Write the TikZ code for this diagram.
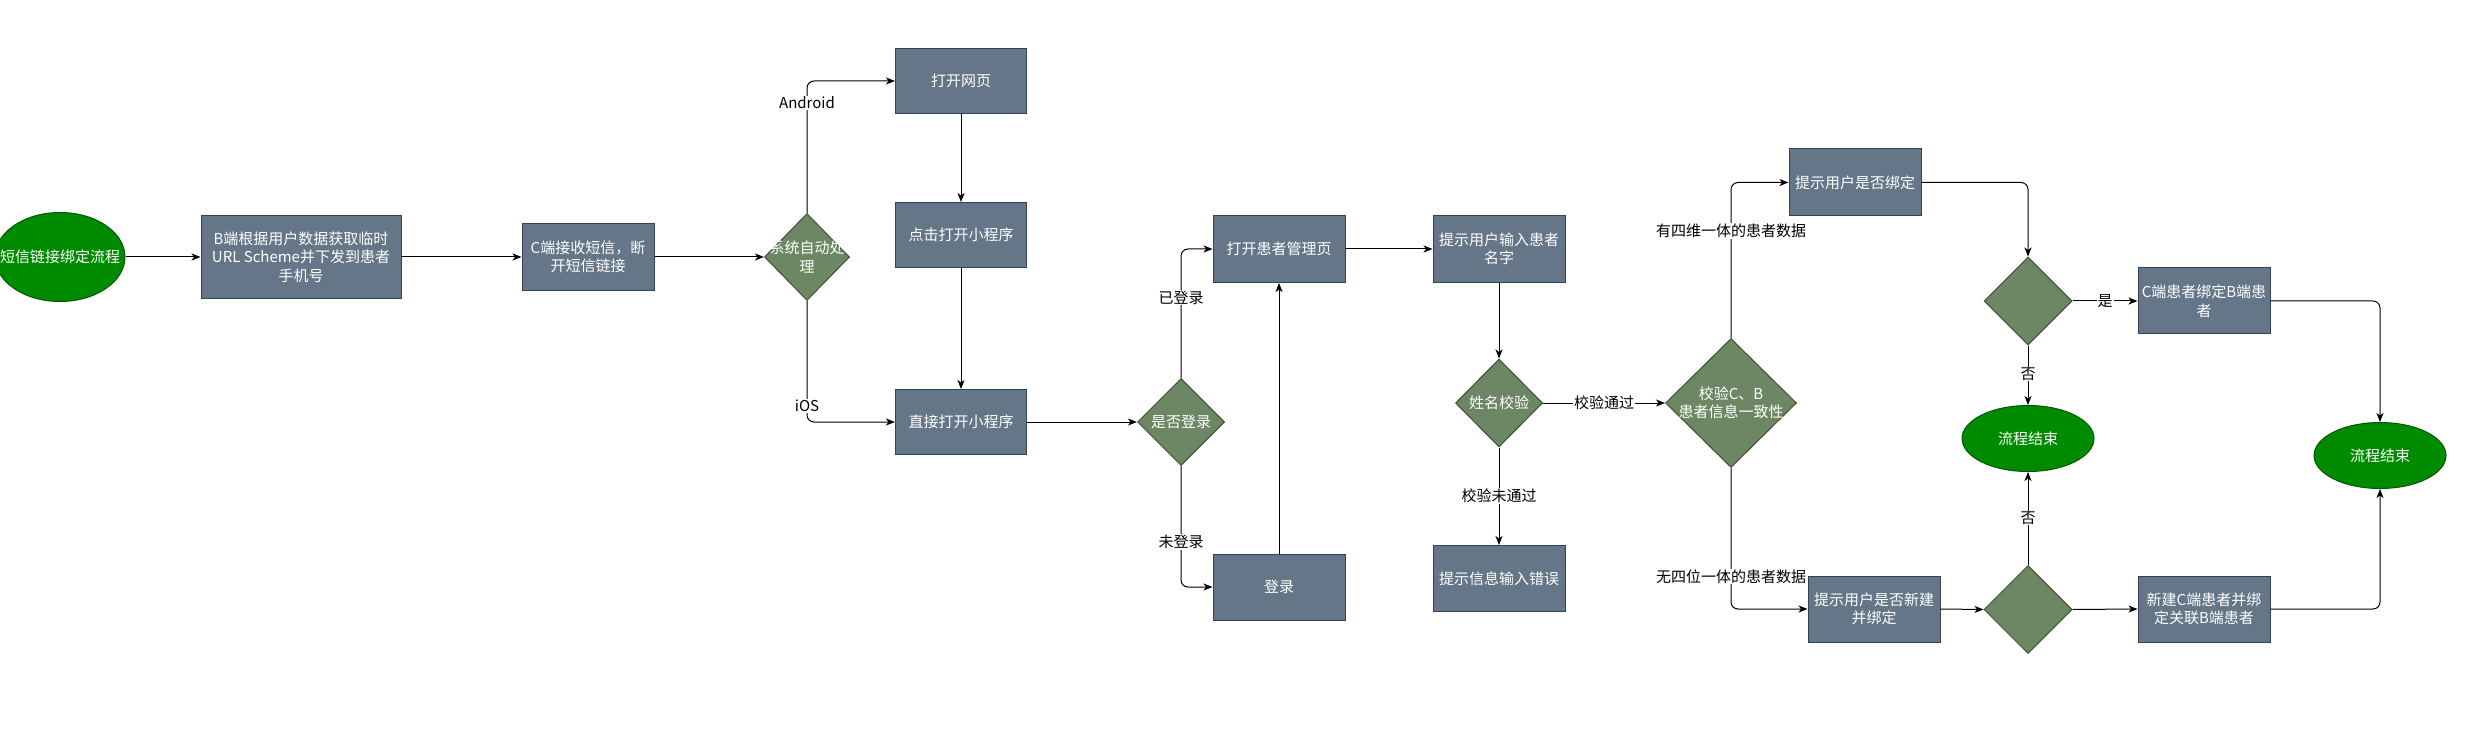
\documentclass[tikz,border=0pt]{standalone}
\usepackage{fontspec}
\setmainfont{Noto Sans CJK SC}
\usetikzlibrary{shapes.geometric,arrows.meta}
\definecolor{boxfill}{HTML}{647687}
\definecolor{boxline}{HTML}{314354}
\definecolor{diafill}{HTML}{6D8764}
\definecolor{dialine}{HTML}{3A5431}
\definecolor{termfill}{HTML}{008A00}
\definecolor{termline}{HTML}{005700}
\begin{document}
\begin{tikzpicture}[x=1pt,y=-1pt,
  every node/.style={font=\fontsize{15}{18.5}\selectfont},
  box/.style={draw=boxline, line width=1pt, fill=boxfill, text=white, minimum width=132pt, minimum height=66pt, inner sep=2pt, align=center},
  dia/.style={diamond, draw=dialine, line width=1pt, fill=diafill, minimum width=88pt, minimum height=88pt, inner sep=0pt},
  dtext/.style={text=white, align=center, inner sep=0pt, font=\fontsize{15}{18.5}\selectfont},
  term/.style={ellipse, draw=termline, line width=1pt, fill=termfill, text=white, minimum width=132pt, minimum height=66pt, inner sep=0pt},
  flow/.style={draw=black, line width=1pt, -{Stealth[length=9pt,width=7pt,inset=2.5pt]}, rounded corners=7pt},
  lbl/.style={fill=white, inner sep=1pt, text=black}]
\clip (0,0) rectangle (2466,735);
\fill[white] (0,0) rectangle (2466,735);

% row 1
\node[term, minimum width=130pt, minimum height=89pt, label={[dtext]center:短信链接绑定流程}] (start) at (60,257) {};
\node[box, minimum width=200pt, minimum height=83pt] (bsend) at (301,257) {B端根据用户数据获取临时\\URL Scheme并下发到患者\\手机号};
\node[box, minimum height=67pt] (crecv) at (588,257) {C端接收短信，断\\开短信链接};
\node[dia, minimum width=85pt, minimum height=87pt, label={[dtext]center:系统自动处\\理}] (sys) at (807,257) {};

\node[box, minimum width=131pt, minimum height=65pt] (web) at (961,81) {打开网页};
\node[box, minimum width=131pt, minimum height=65pt] (click) at (961,235) {点击打开小程序};
\node[box, minimum width=131pt, minimum height=65pt] (direct) at (961,422) {直接打开小程序};

\node[dia, minimum width=87pt, minimum height=87pt, label={[dtext]center:是否登录}] (islog) at (1181,422) {};
\node[box, minimum height=67pt] (mgmt) at (1279,249) {打开患者管理页};
\node[box] (login) at (1279,587) {登录};

\node[box, minimum height=67pt] (askname) at (1499,249) {提示用户输入患者\\名字};
\node[dia, minimum width=87pt, minimum height=88pt, label={[dtext]center:姓名校验}] (namechk) at (1499,403) {};
\node[box] (err) at (1499,578.5) {提示信息输入错误};

\node[dia, minimum width=131pt, minimum height=129pt, label={[dtext]center:校验C、B\\患者信息一致性}] (chk) at (1731,403) {};

\node[box, minimum height=67pt] (bindq) at (1855,182.5) {提示用户是否绑定};
\node[box] (newq) at (1874,609) {提示用户是否新建\\并绑定};

\node[dia] (da) at (2028,301) {};
\node[dia] (db) at (2028,609.5) {};
\node[term] (end1) at (2028,438.5) {流程结束};

\node[box] (bindc) at (2204,301) {C端患者绑定B端患\\者};
\node[box] (newc) at (2204,609) {新建C端患者并绑\\定关联B端患者};
\node[term] (end2) at (2380,455.5) {流程结束};

% connectors
\draw[flow] (start.east) -- (bsend.west);
\draw[flow] (bsend.east) -- (crecv.west);
\draw[flow] (crecv.east) -- (sys.west);
\draw[flow] (sys.north) |- (web.west);
\draw[flow] (sys.south) |- (direct.west);
\draw[flow] (web.south) -- (click.north);
\draw[flow] (click.south) -- (direct.north);
\draw[flow] (direct.east) -- (islog.west);
\draw[flow] (islog.north) |- (mgmt.west);
\draw[flow] (islog.south) |- (login.west);
\draw[flow] (login.north) -- (mgmt.south);
\draw[flow] (mgmt.east) -- (askname.west);
\draw[flow] (askname.south) -- (namechk.north);
\draw[flow] (namechk.south) -- (err.north);
\draw[flow] (namechk.east) -- (chk.west);
\draw[flow] (chk.north) |- (bindq.west);
\draw[flow] (chk.south) |- (newq.west);
\draw[flow] (bindq.east) -| (da.north);
\draw[flow] (da.east) -- (bindc.west);
\draw[flow] (da.south) -- (end1.north);
\draw[flow] (newq.east) -- (db.west);
\draw[flow] (db.north) -- (end1.south);
\draw[flow] (db.east) -- (newc.west);
\draw[flow] (bindc.east) -| (end2.north);
\draw[flow] (newc.east) -| (end2.south);

% edge labels
\node[lbl] (lAndroid) at (807,103) {Android};
\node[lbl] (liOS) at (807,406) {iOS};
\node[lbl] (lyes1) at (1181,297.5) {已登录};
\node[lbl] (lno1) at (1181,542) {未登录};
\node[lbl] (lpass) at (1604,403) {校验通过};
\node[lbl] (lfail) at (1499,496) {校验未通过};
\node[lbl] (lhas) at (1731,231) {有四维一体的患者数据};
\node[lbl] (lnone) at (1731,576.5) {无四位一体的患者数据};
\node[lbl] (lshi) at (2105,301) {是};
\node[lbl] (lfou1) at (2028,374) {否};
\node[lbl] (lfou2) at (2028,518) {否};
\end{tikzpicture}
\end{document}
